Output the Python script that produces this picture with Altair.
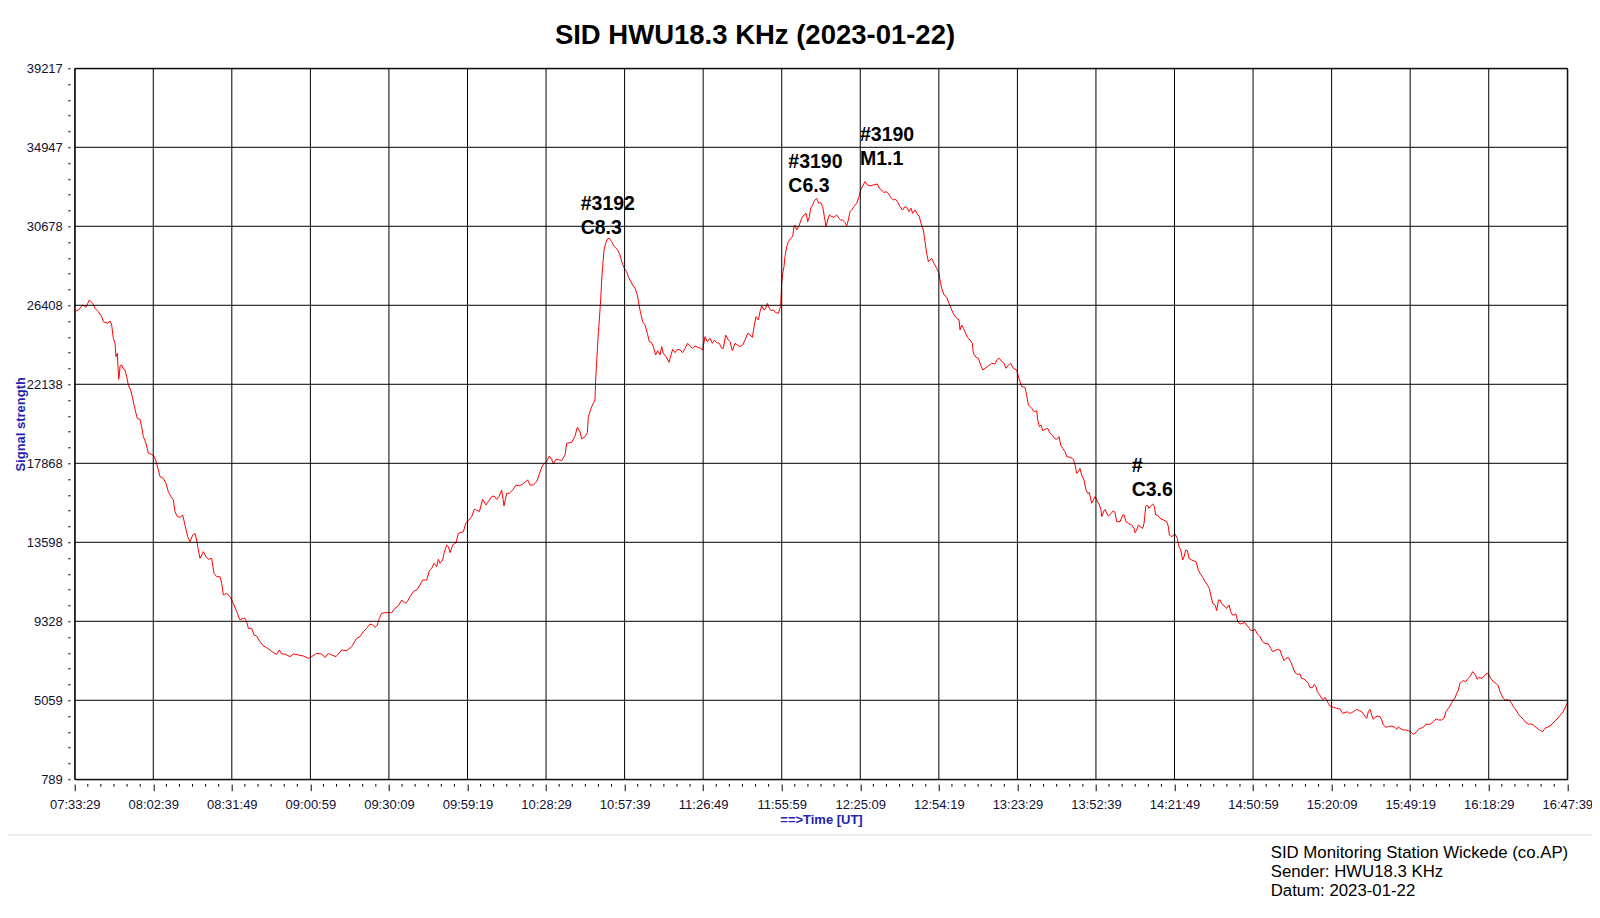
import altair as alt
import pandas as pd

# ---------------- data (minutes after 07:33:29 UT, signal strength) ----------------
seg_a = [(0.0, 26064), (1.35, 26154), (2.96, 26425), (4.20, 26299), (5.43, 26695), (6.67, 26515),
         (7.54, 26245), (8.77, 26064), (10.01, 25794), (10.63, 25524), (12.24, 25434), (13.11, 25560),
         (13.73, 25344), (14.34, 24623), (14.96, 24353), (15.33, 23632), (15.83, 23812), (16.32, 22407),
         (16.57, 22641), (16.82, 23128), (17.44, 23182), (17.81, 23002), (18.68, 22911), (19.29, 22551),
         (19.91, 22101), (20.78, 21830), (21.52, 21380), (22.02, 21020), (22.76, 20569), (23.25, 20299),
         (24.24, 20245), (24.86, 19849), (25.48, 19308), (26.47, 18948), (27.34, 18407), (28.58, 18353),
         (29.57, 18227), (30.43, 17867), (31.67, 17146), (32.91, 17056), (33.90, 16786), (34.76, 16335),
         (35.75, 16065), (36.62, 15885), (37.24, 15254), (38.11, 14984), (39.10, 14948), (40.09, 15074),
         (40.95, 14534), (41.94, 13903), (42.81, 13633), (43.80, 13993), (44.67, 14083), (45.28, 13723),
         (45.90, 13182), (46.52, 12732), (47.14, 12912), (47.76, 13092), (48.75, 12822), (49.62, 12678),
         (50.85, 12732), (51.72, 11921), (52.71, 11741), (53.95, 11741), (54.57, 11381), (55.18, 10750),
         (56.42, 10840), (57.66, 10660), (58.90, 10300), (60.14, 9849), (61.37, 9399), (62.36, 9489),
         (63.23, 9489), (63.85, 9309), (64.47, 8948), (65.70, 8948), (66.57, 8588), (67.56, 8534),
         (68.80, 8228), (70.04, 7993), (71.27, 7903), (72.51, 7777), (73.75, 7633), (74.99, 7543),
         (75.98, 7777), (76.84, 7561), (78.08, 7561), (79.94, 7417), (81.18, 7561), (83.03, 7507),
         (84.89, 7453), (86.75, 7327), (87.98, 7417), (89.84, 7597), (91.70, 7561), (92.93, 7363),
         (94.17, 7597), (95.41, 7507), (97.02, 7417), (99.12, 7777), (100.98, 7741), (102.83, 7957),
         (104.69, 8408), (105.93, 8498)]

seg_b = [(107.16, 8768), (108.40, 8948), (109.64, 9183), (110.63, 9129), (111.50, 9002), (112.36, 9129),
         (113.10, 9489), (113.97, 9759), (115.21, 9795), (117.68, 9795), (118.92, 10029), (120.16, 10155),
         (121.40, 10480), (122.63, 10300), (123.50, 10390), (124.49, 10660), (125.73, 10930), (127.21, 11056),
         (128.20, 11291), (129.19, 11561), (130.68, 11561), (131.67, 12065), (132.54, 12191), (133.40, 12462),
         (134.39, 12281), (135.01, 12678), (135.63, 12462), (136.62, 12642), (137.11, 13002), (138.10, 13453),
         (138.72, 13363), (139.34, 13038), (140.33, 13453), (141.57, 13579), (142.44, 14083), (144.29, 14173),
         (145.28, 14660), (146.15, 14768), (147.39, 14984), (148.38, 15380), (149.24, 15344), (150.23, 15254),
         (151.47, 15921), (152.71, 15615), (153.57, 15795), (154.81, 16065), (155.68, 16101), (156.67, 15921),
         (157.53, 16065), (158.52, 16425), (159.39, 15561), (160.38, 16245), (161.37, 16245), (162.61, 16425),
         (163.85, 16696), (165.08, 16642), (166.32, 16750), (168.18, 16966), (169.04, 16696), (170.28, 16696),
         (171.52, 16876), (172.51, 17290), (173.75, 17777), (175.23, 17957), (176.22, 18263), (177.09, 18083),
         (177.71, 17831), (178.70, 18083), (179.94, 18047), (180.80, 18011), (182.04, 18317), (182.66, 18948),
         (184.51, 19002), (185.75, 19344), (186.62, 19813), (187.61, 19578), (188.23, 19182), (189.47, 19308),
         (190.33, 19524), (190.70, 20389), (191.94, 20930), (193.18, 21290)]

seg_c = [(193.42, 22371), (193.79, 23362), (194.41, 24893), (194.78, 25614), (195.28, 26695), (195.65, 27776),
         (196.02, 28497), (196.52, 29397), (197.13, 29758), (197.75, 29992), (198.50, 30028), (199.36, 29848),
         (200.35, 29578), (201.47, 29433), (202.46, 29127), (203.08, 28767), (204.07, 28406), (204.93, 28226),
         (205.55, 27956), (206.17, 27776), (207.16, 27506), (208.03, 27325), (208.89, 26965), (209.51, 26425),
         (210.13, 25974), (210.87, 25524), (211.74, 25344), (212.60, 24893), (213.35, 24443), (214.21, 24389),
         (214.83, 24172), (215.70, 23722), (216.44, 23956), (217.31, 23722), (217.93, 24172), (218.55, 23812),
         (219.54, 23632), (220.65, 23326), (221.39, 23722), (222.01, 24028), (222.88, 23848), (223.74, 24028),
         (224.73, 23992), (225.72, 23848), (226.59, 24082), (227.58, 24353), (228.45, 24209), (229.31, 24082),
         (230.30, 24209), (231.29, 24136), (232.41, 24082), (233.15, 23992), (234.02, 24713), (234.88, 24443),
         (235.87, 24623), (236.74, 24353), (237.48, 24533), (238.35, 24389), (239.34, 24353), (240.20, 24082),
         (240.82, 24082), (241.69, 24803), (242.68, 24533), (243.30, 24443), (244.16, 23956), (245.15, 24353),
         (246.02, 24263), (247.01, 24172), (248.00, 24263), (248.87, 24533), (249.86, 24893), (250.72, 24803),
         (251.59, 24677), (252.33, 25344), (252.95, 25794), (253.82, 25614), (254.44, 26064), (255.06, 26371),
         (255.92, 26154), (256.54, 26244), (257.16, 26515), (257.90, 26244), (258.52, 26118), (259.39, 26154),
         (260.25, 26010), (261.24, 25974), (261.86, 26244)]

seg_d = [(262.11, 26335), (262.48, 27596), (262.86, 28137), (263.35, 28497), (263.72, 29038), (264.34, 29578),
         (264.96, 29848), (265.83, 30028), (266.57, 30119), (267.06, 30659), (267.43, 30749), (268.05, 30479),
         (269.04, 30749), (269.91, 31109), (270.78, 31290), (271.52, 31380), (272.14, 30929), (272.76, 31200),
         (273.25, 31650), (274.00, 31830), (274.61, 32064), (275.48, 32190), (276.22, 31920), (276.96, 31956),
         (277.71, 31740), (278.33, 31200), (278.94, 30659), (279.56, 31019), (280.18, 31290), (281.05, 31200),
         (281.91, 31164), (282.91, 31290), (283.77, 31109), (284.39, 31019), (285.13, 31019), (286.00, 30875),
         (286.62, 30695), (287.24, 31019), (287.86, 31470), (288.47, 31560), (289.34, 31740), (290.33, 31920),
         (291.20, 32281), (291.82, 32641), (292.56, 32857), (293.42, 33091), (294.29, 32911), (295.28, 32857),
         (296.52, 32911), (298.00, 32965), (298.75, 32731), (299.61, 32641), (300.48, 32497), (301.22, 32551),
         (302.09, 32461), (302.95, 32245), (303.94, 32100), (304.81, 32136), (305.43, 32010), (306.42, 31740),
         (307.41, 31560), (308.27, 31740), (308.89, 31704), (309.76, 31470), (310.50, 31650), (311.12, 31380),
         (311.99, 31560), (312.85, 31344), (313.60, 31200), (314.21, 30839), (315.08, 30479), (315.70, 29848),
         (316.32, 29218), (316.94, 28767), (317.56, 28857), (318.17, 28947), (319.04, 28677), (320.03, 28407),
         (320.90, 28137), (321.27, 27776), (321.89, 27326), (322.76, 26966), (323.75, 26839), (324.61, 26515),
         (325.60, 26155), (326.47, 25885), (327.46, 25704), (328.33, 25614), (328.70, 25074), (329.32, 25344),
         (329.94, 25164), (330.55, 24984), (331.42, 24677), (332.41, 24533), (333.28, 24353), (333.65, 23813),
         (334.64, 23596), (335.50, 23542), (336.37, 23182), (337.11, 22912), (337.98, 23002), (339.22, 23128),
         (340.45, 23272), (341.69, 23236), (342.56, 23488), (343.30, 23542), (344.17, 23362), (345.03, 23272),
         (345.77, 23002), (346.64, 23182), (347.51, 23272), (348.50, 23002), (349.73, 22912), (350.72, 22371)]

seg_e = [(350.98, 22281), (351.60, 22011), (352.83, 21975), (353.45, 21560), (354.07, 21020), (355.31, 20840),
         (356.18, 20659), (357.17, 20713), (357.54, 20209), (358.16, 19849), (358.78, 19939), (359.39, 19632),
         (360.26, 19704), (361.25, 19758), (362.12, 19488), (362.98, 19398), (363.73, 19218), (364.59, 19164),
         (365.46, 19308), (366.08, 18858), (366.82, 18677), (367.69, 18497), (368.31, 18227), (369.54, 18191),
         (370.78, 18083), (371.40, 17777), (372.02, 17326), (372.64, 17416), (373.26, 17596), (373.87, 17236),
         (374.74, 16966), (375.48, 16425), (376.10, 16245), (376.72, 16281), (377.59, 15705), (378.21, 15885),
         (378.83, 16065), (379.44, 15885), (380.43, 15615), (381.05, 15344), (381.30, 14984), (382.17, 15308),
         (382.54, 15380), (383.16, 15164), (383.77, 15020), (384.64, 15128), (385.63, 15308), (386.25, 15200),
         (386.87, 14714), (388.11, 14714), (389.10, 15074), (389.59, 15074), (390.33, 14714), (391.20, 14624),
         (392.44, 14534), (393.30, 14353), (393.67, 14119), (394.29, 14263), (394.91, 14534), (395.53, 14444),
         (396.52, 14353), (397.02, 14624), (397.64, 15524), (398.25, 15614), (398.87, 15434), (399.49, 15561),
         (400.24, 15669), (400.85, 15524), (401.35, 15074), (401.97, 15074), (402.96, 14894), (404.20, 14804),
         (405.43, 14714), (406.05, 14444), (406.42, 13993), (407.29, 13903), (408.53, 14047), (409.39, 13813),
         (410.01, 13362), (410.63, 13182), (411.37, 12642), (411.87, 12822), (412.49, 13182), (413.11, 13146),
         (413.72, 12732), (414.71, 12642), (416.32, 12552), (417.19, 12101), (417.81, 11921), (418.80, 11705),
         (419.66, 11471), (420.53, 11291), (421.27, 11110), (421.77, 10750), (422.51, 10300), (423.38, 10210),
         (424.00, 9903), (424.62, 10480), (425.23, 10480), (425.85, 10300), (426.72, 10155), (427.71, 10029),
         (428.58, 10210), (429.20, 9849), (429.82, 9669), (430.43, 9669), (431.17, 9723), (431.79, 9309),
         (432.66, 9183), (433.65, 9219), (434.52, 9255), (435.13, 9129), (436.12, 8948)]

seg_f = [(436.36, 8858), (437.35, 8822), (438.22, 8894), (439.09, 8642), (440.08, 8498), (441.07, 8228),
         (441.93, 8138), (443.17, 8102), (444.04, 7867), (444.78, 7687), (445.65, 7741), (446.51, 7813),
         (447.50, 7777), (448.12, 7507), (448.99, 7201), (449.73, 7327), (450.59, 7381), (451.46, 7147),
         (452.20, 6877), (453.07, 6552), (453.94, 6462), (454.93, 6480), (455.54, 6246), (456.41, 6210),
         (457.15, 6120), (458.02, 5976), (458.64, 5742), (459.50, 5742), (460.25, 5922), (460.87, 5796),
         (461.36, 5525), (462.10, 5381), (462.97, 5165), (463.59, 5111), (464.21, 5219), (464.83, 5075),
         (465.45, 4895), (466.06, 4751), (467.30, 4679), (468.54, 4624), (469.78, 4588), (470.77, 4354),
         (471.63, 4390), (472.50, 4444), (473.24, 4354), (474.11, 4390), (474.73, 4444), (475.96, 4570),
         (476.95, 4498), (477.82, 4444), (478.44, 4318), (479.06, 4210), (479.68, 4084), (480.30, 4444),
         (480.91, 4570), (481.53, 4264), (482.15, 4030), (482.77, 4138), (483.64, 4210), (484.63, 4174),
         (485.25, 3994), (485.87, 3724), (486.86, 3598), (487.72, 3634), (488.96, 3670), (490.20, 3598),
         (490.82, 3489), (491.43, 3634), (492.05, 3544), (492.67, 3489), (493.29, 3453), (494.28, 3453),
         (495.15, 3417), (496.01, 3363), (497.00, 3219), (497.99, 3309), (498.86, 3489), (499.73, 3544),
         (500.72, 3598), (501.58, 3760), (502.57, 3760), (503.44, 3778), (504.43, 3904), (505.42, 4048),
         (506.29, 3994), (507.52, 3994), (508.39, 4084), (509.13, 4444), (510.00, 4625), (510.62, 4751),
         (511.24, 4931), (511.85, 5111), (512.47, 5165), (513.09, 5435), (513.71, 5615), (514.33, 5976),
         (514.95, 6066), (515.57, 6120), (516.43, 6066), (517.05, 6192), (517.80, 6300), (518.41, 6426),
         (519.03, 6606), (519.65, 6516), (520.27, 6372), (520.76, 6192), (521.38, 6300), (522.37, 6246),
         (523.24, 6336), (523.98, 6480), (524.60, 6516), (525.22, 6372), (525.84, 6246), (526.71, 6066),
         (527.70, 5976), (528.56, 5832), (529.18, 5525), (529.80, 5345), (530.42, 5165), (531.04, 5075),
         (532.65, 5075), (533.51, 4895), (534.13, 4715), (535.12, 4534), (535.99, 4318), (536.85, 4174),
         (537.84, 4030), (538.83, 3850), (539.70, 3778), (540.57, 3778), (541.56, 3724), (542.55, 3598),
         (543.42, 3489), (544.28, 3417), (545.03, 3363), (545.89, 3544), (547.75, 3670), (550.72, 4102),
         (552.58, 4426), (554.17, 4913)]

# axis ticks / labels
x_labels = ["07:33:29", "08:02:39", "08:31:49", "09:00:59", "09:30:09", "09:59:19", "10:28:29",
            "10:57:39", "11:26:49", "11:55:59", "12:25:09", "12:54:19", "13:23:29", "13:52:39",
            "14:21:49", "14:50:59", "15:20:09", "15:49:19", "16:18:29", "16:47:39"]
x_step_min = 1750 / 60.0          # 29 min 10 s between labelled ticks
x_minor_per_major = 6
y_major = [789, 5059, 9328, 13598, 17868, 22138, 26408, 30678, 34947, 39217]
y_minor_per_major = 5

# flare annotations
ann_time = [187.87, 264.95, 291.56, 392.44]
ann_value = [31884, 34127, 35613, 17739]
ann_top = ["#3192", "#3190", "#3190", "#"]
ann_bottom = ["C8.3", "C6.3", "M1.1", "C3.6"]

title_text = "SID HWU18.3 KHz (2023-01-22)"
footer_lines = ["SID Monitoring Station Wickede (co.AP)", "Sender: HWU18.3 KHz", "Datum: 2023-01-22"]

# ---------------- build tables ----------------
rows = seg_a + seg_b + seg_c + seg_d + seg_e + seg_f
df = pd.DataFrame(rows, columns=["t", "v"])

x_major = [i * x_step_min for i in range(len(x_labels))]
n_int = len(x_labels) - 1
x_minor = [k * x_step_min / x_minor_per_major for k in range(n_int * x_minor_per_major + 1)
           if k % x_minor_per_major != 0]
y_ticks = []
for i in range(len(y_major) - 1):
    a, b = y_major[i], y_major[i + 1]
    for k in range(y_minor_per_major):
        y_ticks.append(a + k * (b - a) / y_minor_per_major)
y_ticks.append(y_major[-1])

xgrid_df = pd.DataFrame({"t": x_major})
xminor_df = pd.DataFrame({"t": x_minor})
ygrid_df = pd.DataFrame({"v": y_major})
ann_df = pd.DataFrame({"t": ann_time, "v": ann_value, "top": ann_top, "bottom": ann_bottom})

W, H = 1492.6, 711
FONT = "Liberation Sans"
BLUE = "#2323B0"

xs = alt.Scale(domain=[0, n_int * x_step_min], nice=False, zero=False)
ys = alt.Scale(domain=[y_major[0], y_major[-1]], nice=False, zero=False)

x_label_expr = "[" + ",".join(f"'{s}'" for s in x_labels) + "][round(datum.value / " + repr(x_step_min) + ")]"
y_label_expr = ("indexof([" + ",".join(str(v) for v in y_major) +
                "], datum.value) >= 0 ? format(datum.value, 'd') : ''")

x_axis = alt.Axis(values=x_major, labelExpr=x_label_expr, offset=4.7, tickSize=6.7, tickColor="black",
                  tickWidth=1, domain=False, grid=False, labelPadding=7.5, labelFontSize=13,
                  labelFont=FONT, labelColor="#111133", labelFlush=False, labelOverlap=False,
                  title="==>Time [UT]", titleFont=FONT, titleFontSize=13, titleFontWeight="bold",
                  titleColor=BLUE, titlePadding=2)
y_axis = alt.Axis(values=y_ticks, labelExpr=y_label_expr, offset=4.7, tickSize=2.3, tickColor="black",
                  tickWidth=1, domain=False, grid=False, labelPadding=5.4, labelFontSize=13,
                  labelFont=FONT, labelColor="#111133", labelOverlap=False, labelFlush=False,
                  title="Signal strength", titleFont=FONT, titleFontSize=13, titleFontWeight="bold",
                  titleColor=BLUE, titlePadding=-1)

X = alt.X("t:Q", scale=xs, axis=x_axis)
Y = alt.Y("v:Q", scale=ys, axis=y_axis)

line = alt.Chart(df).mark_line(color="#FF0000", strokeWidth=1, interpolate="linear").encode(x=X, y=Y)
vgrid = alt.Chart(xgrid_df).mark_rule(color="black", strokeWidth=1).encode(x=X)
hgrid = alt.Chart(ygrid_df).mark_rule(color="black", strokeWidth=1).encode(y=Y)
minor_ticks = alt.Chart(xminor_df).mark_rule(color="black", strokeWidth=1).encode(
    x=X, y=alt.value(H + 4.7), y2=alt.value(H + 7.4))

ann_style = dict(align="left", baseline="middle", font=FONT, fontSize=19.5, fontWeight="bold", color="black")
ann1 = alt.Chart(ann_df).mark_text(**ann_style).encode(x=X, y=Y, text="top:N")
ann2 = alt.Chart(ann_df).mark_text(dy=24, **ann_style).encode(x=X, y=Y, text="bottom:N")

sep = alt.Chart(pd.DataFrame({"a": [0]})).mark_rule(color="#DDDDDD", strokeWidth=1).encode(
    x=alt.value(-74.7), x2=alt.value(1525.3), y=alt.value(766.7))

footer_layers = []
for i, txt in enumerate(footer_lines):
    footer_layers.append(
        alt.Chart(pd.DataFrame({"s": [txt]})).mark_text(
            align="left", baseline="middle", font=FONT, fontSize=16.8, color="black").encode(
            x=alt.value(1196), y=alt.value(785.2 + i * 18.9), text="s:N"))

chart = alt.layer(line, vgrid, hgrid, minor_ticks, ann1, ann2, sep, *footer_layers).properties(
    width=W, height=H,
    title=alt.TitleParams(text=title_text, anchor="middle", dx=-66, frame="group",
                          offset=13, font=FONT, fontSize=27.5, fontWeight="bold", color="black"),
    padding={"left": 66.7, "top": 60.3, "right": 24.7, "bottom": 125},
    autosize=alt.AutoSizeParams(type="none"),
    background="white",
).configure_view(stroke="black", strokeWidth=1)

chart.save("out.html", embed_options={"renderer": "svg", "actions": False})
